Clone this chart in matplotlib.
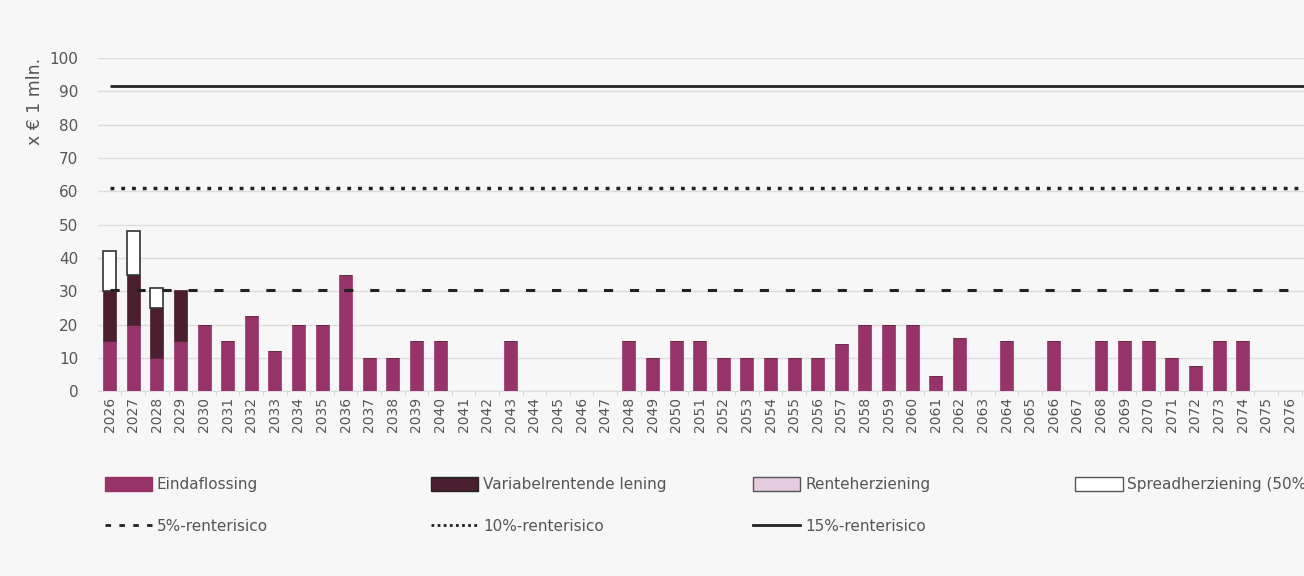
import matplotlib.pyplot as plt
from matplotlib.patches import Patch
from matplotlib.lines import Line2D
import numpy as np

# jaartallen 2026 t/m 2076
years = [str(y) for y in range(2026, 2077)]

eindaflossing = [15, 20, 10, 15, 20, 15, 22.5, 12, 20, 20, 35, 10, 10, 15, 15,
                 0, 0, 15, 0, 0, 0, 0, 15, 10, 15, 15, 10, 10, 10, 10, 10, 14,
                 20, 20, 20, 4.5, 16, 0, 15, 0, 15, 0, 15, 15, 15, 10, 7.5, 15,
                 15, 0, 0]
variabel = [15, 15, 15, 15.5] + [0] * 47
renteherziening = [0] * 51
spread = [12, 13, 6, 0] + [0] * 47

risico_5 = 30.5
risico_10 = 61
risico_15 = 91.5

c_eind = "#963469"
c_var = "#4b1f30"
c_rente = "#e6cade"
bg = "#f7f7f7"
grey = "#555555"

fig = plt.figure(figsize=(13.04, 5.76), dpi=100, facecolor=bg)
ax = fig.add_axes([0.075, 0.321, 0.925, 0.578])
ax.set_facecolor(bg)

x = np.arange(len(years))
w = 0.55
b1 = np.array(eindaflossing)
b2 = b1 + np.array(variabel)
b3 = b2 + np.array(renteherziening)
ax.bar(x, eindaflossing, w, color=c_eind, edgecolor=c_eind, linewidth=0.5, zorder=3)
ax.bar(x, variabel, w, bottom=b1, color=c_var, edgecolor=c_var, linewidth=0.5, zorder=3)
ax.bar(x, renteherziening, w, bottom=b2, color=c_rente, edgecolor=c_var, linewidth=0.0, zorder=3)
sp = np.array(spread)
ax.bar(x[sp > 0], sp[sp > 0], w, bottom=b3[sp > 0], color="white",
       edgecolor="#333333", linewidth=1.2, zorder=3)

ax.hlines(risico_5, 0, len(years), color="#222222", lw=2.2, linestyles=(0, (3, 5.5)), zorder=4)
ax.hlines(risico_10, 0, len(years), color="#222222", lw=2.5, linestyles=(0, (1.1, 2)), zorder=4)
ax.hlines(risico_15, 0, len(years), color="#222222", lw=2, zorder=4)

ax.set_xlim(-0.5, 50.6)
ax.set_ylim(0, 100)
ax.set_yticks(range(0, 101, 10))
ax.set_xticks(x)
ax.set_xticklabels(years, rotation=90, fontsize=10, color=grey)
ax.tick_params(axis="y", length=0, labelsize=11, labelcolor=grey, pad=14)
ax.tick_params(axis="x", length=0, pad=4)
ax.set_xticks(x + 0.5, minor=True)
ax.tick_params(axis="x", which="minor", length=3, color="#cccccc")
ax.grid(axis="y", color="#dddddd", linewidth=1, zorder=0)
for s in ["top", "right", "left"]:
    ax.spines[s].set_visible(False)
ax.spines["bottom"].set_color("#dddddd")
ax.set_ylabel("x € 1 mln.", loc="top", fontsize=12.5, color=grey, labelpad=4)

legend_cols = [
    ([Patch(facecolor=c_eind, edgecolor=c_eind),
      Line2D([], [], color="#222222", lw=2, linestyle=(0, (2, 3)))],
     ["Eindaflossing", "5%-renterisico"], 0.070),
    ([Patch(facecolor=c_var, edgecolor="#222222"),
      Line2D([], [], color="#222222", lw=2, linestyle=(0, (1, 1.2)))],
     ["Variabelrentende lening", "10%-renterisico"], 0.320),
    ([Patch(facecolor=c_rente, edgecolor="#555555"),
      Line2D([], [], color="#222222", lw=2)],
     ["Renteherziening", "15%-renterisico"], 0.567),
    ([Patch(facecolor="white", edgecolor="#555555")],
     ["Spreadherziening (50%)"], 0.814),
]
for handles, labels, xpos in legend_cols:
    fig.legend(handles, labels, loc="upper left", bbox_to_anchor=(xpos, 0.195),
               frameon=False, fontsize=11, labelcolor=grey, handlelength=3.1,
               handleheight=1.0, handletextpad=0.3, labelspacing=1.75)

fig.savefig("out.png", dpi=100, facecolor=bg)
